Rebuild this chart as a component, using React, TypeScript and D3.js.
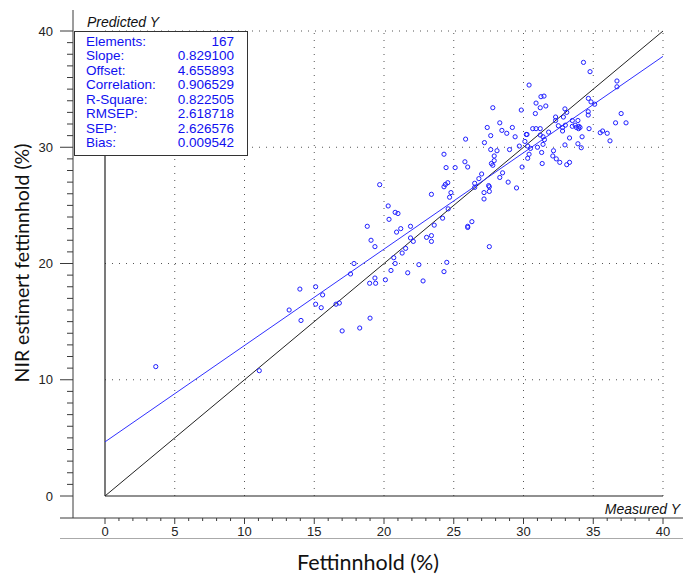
import React from "react";
import * as d3 from "d3";

// ---- data ----
const measured: number[] = [
  3.64, 11.06, 13.2, 13.97, 14.05,
  19.69, 24.3, 24.4, 24.57, 26.5, 23.4, 24.8, 24.7, 26.5, 20.3, 20.8, 21.0, 20.36, 24.6, 24.2,
  23.6, 26.3, 26.0, 26.0, 18.8, 21.9, 20.9, 21.2, 19.07, 19.35, 21.9, 22.1, 23.05, 23.4, 23.4,
  21.55, 21.3, 20.7, 20.8, 17.85, 17.6, 20.5, 21.7, 22.5, 24.5, 24.3, 22.8, 19.35, 18.97, 19.4,
  20.1, 15.1, 15.6, 15.1, 15.5, 16.56, 16.8, 19.0, 18.26, 17.0,
  34.3, 34.77, 30.4, 31.25, 31.47, 30.9, 31.6, 31.2, 27.8, 29.84, 30.85, 36.7, 36.7, 34.65, 34.84,
  35.1, 32.97, 33.1, 32.3, 32.86, 34.64, 34.64, 37.0, 36.6, 37.35, 28.3, 27.4, 29.2, 28.45, 28.8,
  27.65, 29.4, 30.66, 30.9, 31.2, 30.2, 30.25, 31.2, 31.4, 31.5, 30.1, 29.7, 30.3, 30.5, 31.0,
  31.4, 31.3, 30.4, 30.3, 31.34, 32.15, 32.1, 32.35, 32.6, 33.3, 33.1, 32.97, 33.9, 34.14, 34.2,
  34.7, 32.3, 32.5, 32.8, 33.0, 32.8, 33.5, 33.9, 33.7, 33.5, 33.8, 33.97, 34.05, 33.95, 35.5,
  35.67, 36.0, 36.2, 25.85, 27.2, 27.65, 28.1, 27.9, 27.9, 27.7, 27.8, 24.3, 25.8, 26.0, 24.45,
  25.1, 27.0, 28.5, 28.3, 29.9, 28.9, 29.5, 27.5, 27.55, 27.55, 27.17, 27.17, 27.55,
  31.8, 29.0, 33.3, 26.8,
];
const predicted: number[] = [
  11.13, 10.78, 16.0, 17.8, 15.1,
  26.78, 26.6, 26.8, 26.95, 26.9, 25.95, 26.1, 25.7, 26.55, 24.95, 24.4, 24.3, 23.8, 24.7, 23.9,
  23.3, 23.6, 23.2, 23.1, 23.2, 23.2, 22.7, 23.0, 22.0, 21.45, 22.2, 21.9, 22.25, 22.4, 21.9,
  21.3, 20.9, 20.5, 20.0, 20.0, 19.1, 19.4, 19.2, 19.9, 20.1, 19.3, 18.5, 18.75, 18.3, 18.3,
  18.6, 18.0, 17.3, 16.5, 16.2, 16.5, 16.6, 15.3, 14.45, 14.2,
  37.3, 36.5, 35.35, 34.35, 34.4, 33.8, 33.55, 33.4, 33.4, 33.2, 32.9, 35.7, 35.2, 34.2, 33.9,
  33.7, 33.3, 33.0, 32.6, 32.6, 33.06, 32.77, 32.9, 32.1, 32.1, 32.1, 31.7, 31.7, 31.45, 31.2,
  31.0, 30.9, 31.6, 31.6, 31.6, 31.1, 31.1, 31.05, 30.9, 30.65, 30.5, 30.1, 30.1, 29.9, 30.0,
  30.25, 29.55, 29.4, 29.05, 28.6, 29.7, 29.25, 29.0, 28.7, 28.7, 28.5, 30.2, 30.3, 29.96, 30.9,
  31.6, 32.3, 31.85, 31.7, 31.9, 31.4, 32.3, 32.3, 31.9, 31.8, 31.7, 31.8, 31.7, 31.6, 31.25,
  31.4, 31.2, 30.55, 30.7, 30.4, 29.8, 29.7, 29.25, 28.85, 28.6, 28.45, 29.4, 28.75, 28.3, 28.25,
  28.25, 27.7, 27.8, 27.4, 28.3, 27.0, 26.5, 26.7, 26.6, 26.2, 26.1, 25.55, 21.45,
  31.3, 29.8, 30.8, 27.3,
];

const statLabels: string[] = ["Elements:", "Slope:", "Offset:", "Correlation:", "R-Square:", "RMSEP:", "SEP:", "Bias:"];
const statValues: string[] = ["167", "0.829100", "4.655893", "0.906529", "0.822505", "2.618718", "2.626576", "0.009542"];

const slope = 0.8291;
const offset = 4.655893;

const xMajorTicks: number[] = [0, 5, 10, 15, 20, 25, 30, 35, 40];
const yMajorTicks: number[] = [0, 10, 20, 30, 40];
const xGridTicks: number[] = [5, 10, 15, 20, 25, 30, 35, 40];
const yGridTicks: number[] = [10, 20, 30, 40];
const minorTicks: number[] = d3.range(0, 41, 1);

const xTitle = "Fettinnhold (%)";
const yTitle = "NIR estimert fettinnhold (%)";

export default function App() {
  const W = 683, H = 575;
  const x = d3.scaleLinear().domain([0, 40]).range([105, 663]);
  const y = d3.scaleLinear().domain([0, 40]).range([496, 31]);

  const axisX = 73;      // outer y-axis line
  const axisY = 518;     // outer x-axis line
  const axisCol = "#3a3a3a";
  const gridCol = "#555";
  const blue = "#1f1fff";

  const line = d3.line<[number, number]>().x(d => x(d[0])).y(d => y(d[1]));
  const diag = line([[0, 0], [40, 40]]) || "";
  const reg = line([[0, offset], [40, offset + slope * 40]]) || "";

  const sansFont = "'Liberation Sans', Arial, sans-serif";
  const titleFont = "Lato, 'Open Sans', sans-serif";

  const boxL = 74, boxR = 247, boxT = 31, boxB = 155;

  return (
    <svg width={W} height={H} style={{ position: "absolute", left: 0, top: 0, background: "#fff" }}>
      <rect x={0} y={0} width={W} height={H} fill="#fff" />

      {/* gridlines */}
      {xGridTicks.map(t => (
        <line key={"gx" + t} x1={x(t)} x2={x(t)} y1={y(0)} y2={y(40)}
          stroke={gridCol} strokeWidth={1} strokeDasharray="1,6" />
      ))}
      {yGridTicks.map(t => (
        <line key={"gy" + t} x1={x(0)} x2={x(40)} y1={y(t)} y2={y(t)}
          stroke={gridCol} strokeWidth={1} strokeDasharray="1,6" />
      ))}

      {/* inner frame */}
      <line x1={x(0)} x2={x(0)} y1={y(40)} y2={y(0)} stroke="#222" strokeWidth={1.2} />
      <line x1={x(0)} x2={x(40)} y1={y(0)} y2={y(0)} stroke="#222" strokeWidth={1.2} />

      {/* lines */}
      <path d={diag} stroke="#222" strokeWidth={1} fill="none" />
      <path d={reg} stroke="#3030ff" strokeWidth={1} fill="none" />

      {/* points */}
      {measured.map((m, i) => (
        <circle key={"p" + i} cx={x(m)} cy={y(predicted[i])} r={2.1}
          fill="none" stroke={blue} strokeWidth={1} />
      ))}

      {/* stats box */}
      <rect x={boxL + 0.5} y={boxT + 0.5} width={boxR - boxL} height={boxB - boxT}
        fill="#fff" stroke="#333" strokeWidth={1} />
      {statLabels.map((s, i) => (
        <text key={"sl" + i} x={86} y={46 + i * 14.43} fontFamily={sansFont} fontSize={13.5} fill="#1010f0">{s}</text>
      ))}
      {statValues.map((s, i) => (
        <text key={"sv" + i} x={234} y={46 + i * 14.43} fontFamily={sansFont} fontSize={13.5} fill="#1010f0" textAnchor="end">{s}</text>
      ))}
      <text x={87} y={27} fontFamily={sansFont} fontSize={14} fontStyle="italic" fill="#111">Predicted Y</text>
      <text x={680} y={514} fontFamily={sansFont} fontSize={14} fontStyle="italic" fill="#111" textAnchor="end">Measured Y</text>

      {/* outer y axis */}
      <line x1={axisX} x2={axisX} y1={10} y2={axisY} stroke={axisCol} strokeWidth={1} />
      {minorTicks.map(t => (
        <line key={"ymt" + t} x1={t % 10 === 0 ? 60 : 67} x2={axisX} y1={y(t)} y2={y(t)} stroke={axisCol} strokeWidth={1} />
      ))}
      {yMajorTicks.map(t => (
        <text key={"yl" + t} x={53} y={y(t) + 4.5} fontFamily={sansFont} fontSize={13} fill="#222" textAnchor="end">{t}</text>
      ))}

      {/* outer x axis */}
      <line x1={60} x2={683} y1={axisY} y2={axisY} stroke={axisCol} strokeWidth={1} />
      {minorTicks.map(t => (
        <line key={"xmt" + t} x1={x(t)} x2={x(t)} y1={axisY} y2={axisY + (t % 5 === 0 ? 6 : 3)} stroke={axisCol} strokeWidth={1} />
      ))}
      {xMajorTicks.map(t => (
        <text key={"xl" + t} x={x(t)} y={536} fontFamily={sansFont} fontSize={13} fill="#222" textAnchor="middle">{t}</text>
      ))}
      <line x1={60} x2={683} y1={538.5} y2={538.5} stroke="#aaa" strokeWidth={1} />

      {/* titles */}
      <text x={368} y={570} fontFamily={titleFont} fontSize={21.5} fill="#111" textAnchor="middle">{xTitle}</text>
      <text transform={`translate(29,263) rotate(-90)`} fontFamily={titleFont} fontSize={19.5} fill="#111" textAnchor="middle">{yTitle}</text>
    </svg>
  );
}
